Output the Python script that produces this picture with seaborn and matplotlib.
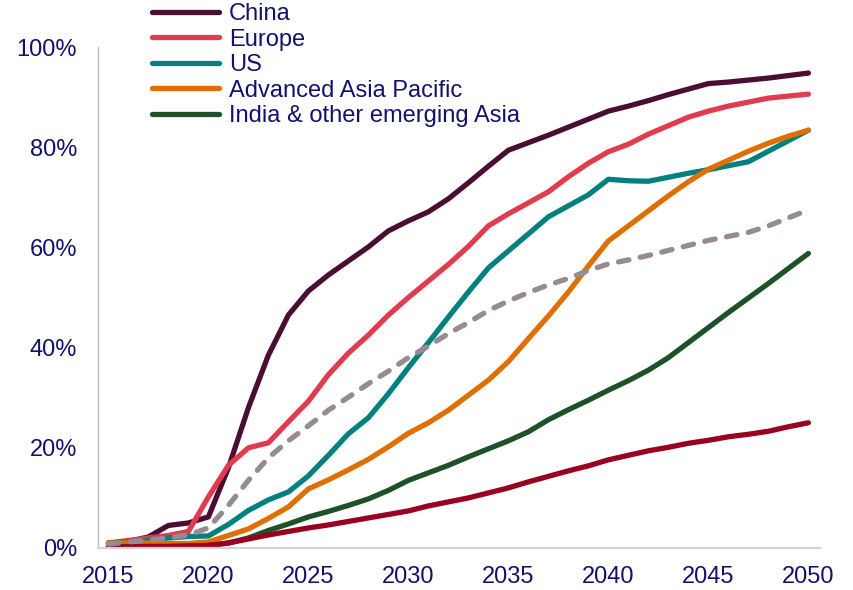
import numpy as np
import pandas as pd
import matplotlib
matplotlib.use("Agg")
import matplotlib.pyplot as plt
import seaborn as sns
from matplotlib.lines import Line2D

years = list(range(2015, 2051))

china = [0.8, 1.3, 2.2, 4.5, 5.0, 6.2, 16.0, 28.0, 38.5, 46.5, 51.3,
         54.5, 57.3, 60.1, 63.3, 65.3, 67.1, 69.7, 72.9, 76.2, 79.4,
         80.9, 82.4, 84.0, 85.6, 87.2, 88.2, 89.3, 90.5, 91.6, 92.7,
         93.0, 93.4, 93.8, 94.3, 94.8]
europe = [1.0, 1.5, 2.0, 2.5, 3.3, 10.2, 16.5, 20.0, 21.0, 25.2, 29.3,
          34.6, 38.9, 42.5, 46.5, 50.0, 53.3, 56.6, 60.2, 64.3, 66.7,
          68.9, 71.1, 74.1, 76.8, 79.1, 80.6, 82.6, 84.3, 86.0, 87.2,
          88.2, 89.0, 89.8, 90.2, 90.6]
us = [1.0, 1.2, 1.5, 2.0, 2.3, 2.4, 4.7, 7.5, 9.6, 11.2, 14.4,
      18.5, 22.8, 26.0, 30.8, 36.0, 41.0, 46.1, 51.1, 55.9, 59.3,
      62.7, 66.1, 68.3, 70.5, 73.6, 73.3, 73.2, 74.0, 74.8, 75.5,
      76.3, 77.1, 79.2, 81.3, 83.4]
adv_asia = [1.0, 1.0, 1.0, 0.9, 0.9, 1.2, 2.5, 3.8, 5.9, 8.2, 11.8,
            13.6, 15.6, 17.7, 20.2, 22.9, 25.0, 27.5, 30.5, 33.5, 37.2,
            41.8, 46.3, 51.1, 56.3, 61.3, 64.3, 67.3, 70.3, 73.1, 75.6,
            77.4, 79.2, 80.8, 82.2, 83.4]
india = [0.3, 0.3, 0.3, 0.3, 0.4, 0.5, 1.0, 2.0, 3.5, 4.8, 6.2,
         7.3, 8.5, 9.8, 11.5, 13.5, 15.0, 16.5, 18.2, 19.8, 21.4,
         23.2, 25.6, 27.6, 29.5, 31.5, 33.4, 35.5, 38.0, 41.0, 44.0,
         47.0, 49.9, 52.8, 55.8, 58.8]
rest_of_world = [0.2, 0.2, 0.3, 0.3, 0.4, 0.5, 1.0, 1.8, 2.6, 3.3, 4.0,
                 4.6, 5.3, 6.0, 6.7, 7.4, 8.4, 9.2, 10.0, 11.0, 12.0,
                 13.2, 14.3, 15.4, 16.4, 17.6, 18.5, 19.4, 20.1, 20.9, 21.5,
                 22.2, 22.7, 23.3, 24.2, 25.0]
global_avg = [0.8, 1.2, 1.6, 2.0, 2.6, 4.0, 8.5, 13.5, 18.0, 21.4, 24.4,
              27.5, 30.1, 32.8, 35.3, 38.0, 40.3, 42.8, 45.0, 47.4, 49.3,
              51.0, 52.5, 53.8, 55.4, 56.7, 57.5, 58.4, 59.4, 60.4, 61.4,
              62.2, 63.0, 64.3, 65.9, 67.5]

legend_names = ["China", "Europe", "US", "Advanced Asia Pacific",
                "India & other emerging Asia"]
y_ticks = [0, 20, 40, 60, 80, 100]
y_tick_labels = ["0%", "20%", "40%", "60%", "80%", "100%"]
x_ticks = [2015, 2020, 2025, 2030, 2035, 2040, 2045, 2050]

series = [
    ("China", china, "#4A0E35"),
    ("Europe", europe, "#E03B4F"),
    ("US", us, "#00807E"),
    ("Advanced Asia Pacific", adv_asia, "#DF6F00"),
    ("India & other emerging Asia", india, "#1D5229"),
    ("Rest of world", rest_of_world, "#9A0020"),
]

sns.set_theme(style="white")
plt.rcParams["font.family"] = ["Liberation Sans", "DejaVu Sans"]
text_color = "#12126E"

fig = plt.figure(figsize=(8.54, 5.90), dpi=100)
ax = fig.add_axes([98 / 854, 1 - 548 / 590, (820 - 98) / 854, (548 - 47) / 590])

lw = 3.8
for name, vals, col in series:
    df = pd.DataFrame({"year": years, "value": vals})
    sns.lineplot(data=df, x="year", y="value", ax=ax, color=col, lw=lw,
                 solid_capstyle="round", solid_joinstyle="round",
                 label="_" + name, legend=False)

dfg = pd.DataFrame({"year": years, "value": global_avg})
sns.lineplot(data=dfg, x="year", y="value", ax=ax, color="#978B91", lw=lw,
             dash_capstyle="round", legend=False)
ax.lines[-1].set_linestyle((0, (2.0, 2.2)))

ax.set_xlim(2014.48, 2050.58)
ax.set_ylim(0, 100)
ax.set_xticks(x_ticks)
ax.set_xticklabels([str(t) for t in x_ticks])
ax.set_yticks(y_ticks)
ax.set_yticklabels(y_tick_labels)
ax.set_xlabel("")
ax.set_ylabel("")
ax.tick_params(axis="both", length=0, labelsize=17, colors=text_color)
ax.tick_params(axis="y", pad=15)
ax.tick_params(axis="x", pad=13)
ax.grid(False)
for s in ["top", "right"]:
    ax.spines[s].set_visible(False)
ax.spines["left"].set_color("#BFBFBF")
ax.spines["left"].set_linewidth(1.0)
ax.spines["bottom"].set_color("#D4D4D4")
ax.spines["bottom"].set_linewidth(1.6)

handles = [Line2D([0], [0], color=c, lw=lw, solid_capstyle="round")
           for n, v, c in series[:5]]
leg = fig.legend(handles, legend_names, loc="upper left",
                 bbox_to_anchor=(152 / 854, 1 - 3 / 590), frameon=False,
                 fontsize=17, handlelength=2.85, handletextpad=0.42,
                 labelspacing=0.15, borderpad=0.0, borderaxespad=0.0)
for t in leg.get_texts():
    t.set_color(text_color)

fig.savefig("out.png", dpi=100)
